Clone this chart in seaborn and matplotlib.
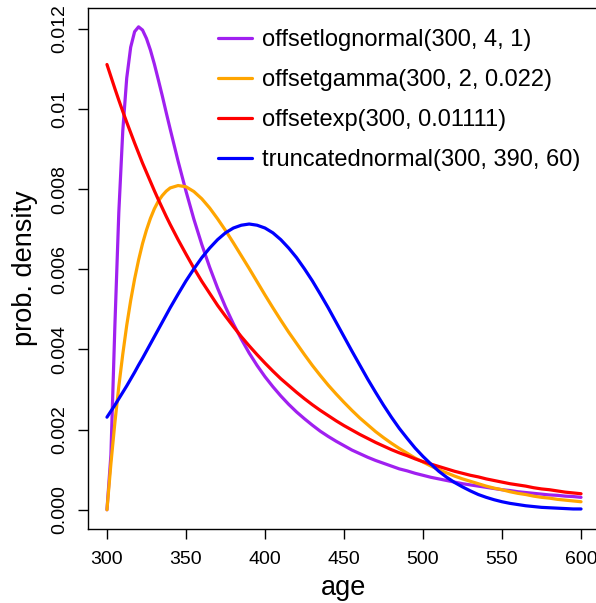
import matplotlib
matplotlib.use("Agg")
import matplotlib.pyplot as plt
import seaborn as sns
import pandas as pd

# ---- data ----
age = [300, 302.5, 305, 307.5, 310, 312.5, 315, 317.5, 320, 322.5, 325, 327.5, 330,
       332.5, 335, 337.5, 340,
       345, 350, 355, 360, 365, 370, 375, 380, 385, 390, 395, 400,
       405, 410, 415, 420, 425, 430, 435, 440, 445, 450,
       455, 460, 465, 470, 475, 480, 485, 490, 495, 500,
       505, 510, 515, 520, 525, 530, 535, 540, 545, 550,
       555, 560, 565, 570, 575, 580, 585, 590, 595, 600]

lognormal = [0.0, 0.00137, 0.00458, 0.00742, 0.00945, 0.01077, 0.01154, 0.01193, 0.01205,
             0.01197, 0.01176, 0.01147, 0.01112, 0.01073, 0.01033, 0.00991, 0.00950,
             0.00870, 0.00795, 0.00725, 0.00662, 0.00605, 0.00553, 0.00506, 0.00464,
             0.00426, 0.00391, 0.00360, 0.00332,
             0.00307, 0.00284, 0.00263, 0.00244, 0.00227, 0.00211, 0.00196, 0.00183,
             0.00171, 0.00160,
             0.00149, 0.00140, 0.00131, 0.00123, 0.00116, 0.00109, 0.00102, 0.00097,
             0.00091, 0.00086,
             0.00081, 0.00077, 0.00073, 0.00069, 0.00065, 0.00062, 0.00059, 0.00056,
             0.00053, 0.00050,
             0.00048, 0.00045, 0.00043, 0.00041, 0.00039, 0.00037, 0.00036, 0.00034,
             0.00033, 0.00031]

gamma = [0.0, 0.00115, 0.00217, 0.00308, 0.00388, 0.00460, 0.00522, 0.00576, 0.00623,
         0.00664, 0.00698, 0.00727, 0.00751, 0.00770, 0.00784, 0.00795, 0.00803,
         0.00809, 0.00806, 0.00794, 0.00776, 0.00753, 0.00726, 0.00697, 0.00666,
         0.00634, 0.00602, 0.00569, 0.00536,
         0.00504, 0.00473, 0.00443, 0.00415, 0.00387, 0.00360, 0.00335, 0.00311,
         0.00289, 0.00268,
         0.00248, 0.00229, 0.00212, 0.00195, 0.00180, 0.00166, 0.00153, 0.00141,
         0.00129, 0.00119,
         0.00109, 0.00100, 0.00092, 0.00084, 0.00077, 0.00071, 0.00065, 0.00059,
         0.00054, 0.00050,
         0.00045, 0.00041, 0.00038, 0.00034, 0.00031, 0.00029, 0.00026, 0.00024,
         0.00022, 0.00020]

expo = [0.01111, 0.01081, 0.01051, 0.01022, 0.00994, 0.00967, 0.00941, 0.00915, 0.00890,
        0.00865, 0.00842, 0.00819, 0.00796, 0.00774, 0.00753, 0.00732, 0.00712,
        0.00674, 0.00638, 0.00603, 0.00570, 0.00540, 0.00510, 0.00483, 0.00457,
        0.00432, 0.00409, 0.00387, 0.00366,
        0.00346, 0.00327, 0.00310, 0.00293, 0.00277, 0.00262, 0.00248, 0.00235,
        0.00222, 0.00210,
        0.00199, 0.00188, 0.00178, 0.00168, 0.00159, 0.00150, 0.00142, 0.00135,
        0.00127, 0.00120,
        0.00114, 0.00108, 0.00102, 0.00096, 0.00091, 0.00086, 0.00082, 0.00077,
        0.00073, 0.00069,
        0.00065, 0.00062, 0.00059, 0.00055, 0.00052, 0.00050, 0.00047, 0.00044,
        0.00042, 0.00040]

truncnorm = [0.00231, 0.00246, 0.00261, 0.00277, 0.00293, 0.00309, 0.00326, 0.00343,
             0.00361, 0.00378, 0.00396, 0.00414, 0.00432, 0.00450, 0.00468, 0.00486,
             0.00504,
             0.00538, 0.00571, 0.00601, 0.00629, 0.00653, 0.00674, 0.00691, 0.00703,
             0.00710, 0.00713, 0.00710, 0.00703,
             0.00691, 0.00674, 0.00653, 0.00629, 0.00601, 0.00571, 0.00538, 0.00504,
             0.00468, 0.00432,
             0.00396, 0.00361, 0.00326, 0.00293, 0.00261, 0.00231, 0.00203, 0.00178,
             0.00154, 0.00133,
             0.00114, 0.00096, 0.00081, 0.00068, 0.00057, 0.00047, 0.00038, 0.00031,
             0.00025, 0.00020,
             0.00016, 0.00013, 0.00010, 0.00008, 0.00006, 0.00005, 0.00004, 0.00003,
             0.00002, 0.00002]

series_names = ["offsetlognormal(300, 4, 1)", "offsetgamma(300, 2, 0.022)",
                "offsetexp(300, 0.01111)", "truncatednormal(300, 390, 60)"]
series_colors = ["#A020F0", "#FFA500", "#FF0000", "#0000FF"]

x_ticks = [300, 350, 400, 450, 500, 550, 600]
y_ticks = [0.000, 0.002, 0.004, 0.006, 0.008, 0.010, 0.012]
y_tick_labels = ["0.000", "0.002", "0.004", "0.006", "0.008", "0.01", "0.012"]

# ---- build long-form table ----
frames = []
for name, vals in zip(series_names, [lognormal, gamma, expo, truncnorm]):
    frames.append(pd.DataFrame({"age": age, "density": vals, "dist": name}))
df = pd.concat(frames, ignore_index=True)

sns.set_theme(style="white")
plt.rcParams["font.family"] = ["Liberation Sans", "DejaVu Sans"]
plt.rcParams["text.color"] = "black"
plt.rcParams["axes.labelcolor"] = "black"

fig = plt.figure(figsize=(5.96, 6.03), dpi=100)
ax = fig.add_axes([88 / 596, 74 / 603, 512 / 596, 521 / 603])

sns.lineplot(data=df, x="age", y="density", hue="dist", hue_order=series_names,
             palette=dict(zip(series_names, series_colors)), sort=False,
             estimator=None, linewidth=2.3, ax=ax, legend=False)

ax.set_xlim(288, 612)
ax.set_ylim(-0.00048, 0.01252)
ax.set_xticks(x_ticks)
ax.set_xticklabels([str(v) for v in x_ticks], fontsize=14)
ax.set_yticks(y_ticks)
ax.set_yticklabels(y_tick_labels, fontsize=14, rotation=90, va="center")
ax.tick_params(axis="both", which="major", bottom=True, left=True, top=False, right=False,
               direction="out", length=7.2, width=1.0, color="black",
               labelcolor="black")
ax.tick_params(axis="x", pad=9)
ax.tick_params(axis="y", pad=7)
for s in ax.spines.values():
    s.set_visible(True)
    s.set_color("black")
    s.set_linewidth(1.0)

ax.set_xlabel("age", fontsize=19.5, color="black")
ax.set_ylabel("prob. density", fontsize=19.5, color="black")
ax.xaxis.label.set_va("center")
ax.yaxis.label.set_va("center")
ax.xaxis.set_label_coords(0.5, (529 - 588) / 521)
ax.yaxis.set_label_coords((25 - 88) / 512, 0.5)

handles = [plt.Line2D([0], [0], color=c, lw=2.3) for c in series_colors]
leg = fig.legend(handles, series_names, loc="upper left",
                 bbox_to_anchor=(218 / 596, 1 - 29 / 603), bbox_transform=fig.transFigure,
                 frameon=False, fontsize=17, handlelength=1.44, handletextpad=0.42,
                 labelspacing=0.76, borderpad=0, borderaxespad=0)
for t in leg.get_texts():
    t.set_color("black")

fig.savefig("out.png", dpi=100)
